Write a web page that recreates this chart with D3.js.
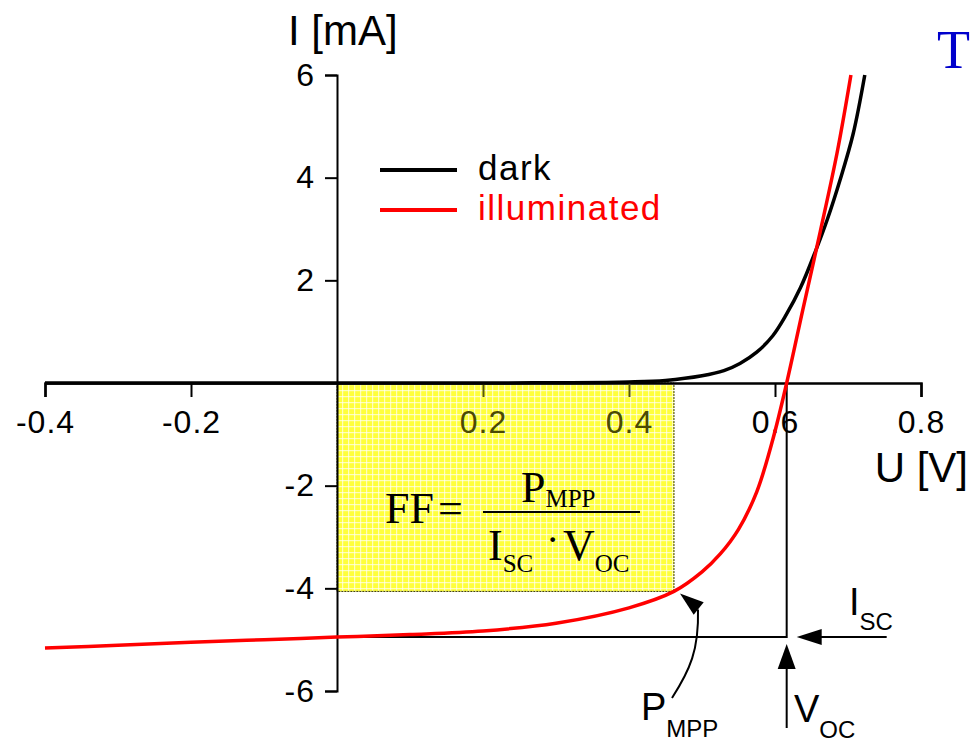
<!DOCTYPE html>
<html>
<head>
<meta charset="utf-8">
<script src="https://cdn.jsdelivr.net/npm/d3@7"></script>
<style>
  html, body { margin: 0; padding: 0; background: #fff; }
  svg { display: block; }
</style>
</head>
<body>
<script>
// Current-voltage characteristic of a solar cell, dark vs illuminated.
const darkU = [-0.4, -0.3, -0.2, -0.1, 0, 0.1, 0.2, 0.3, 0.4, 0.45, 0.5, 0.53, 0.552, 0.575, 0.597, 0.615, 0.635, 0.655, 0.672, 0.689, 0.707, 0.723];
const darkI = [0, 0, 0, 0, 0, 0, 0, 0.005, 0.02, 0.05, 0.14, 0.24, 0.38, 0.6, 0.92, 1.32, 1.86, 2.55, 3.2, 3.95, 4.85, 6.0];

const illumU = [-0.4, -0.3, -0.2, -0.1, 0, 0.1, 0.2, 0.3, 0.4, 0.4616, 0.5, 0.525, 0.55, 0.575, 0.597, 0.616, 0.638, 0.662, 0.685, 0.704];
const illumI = [-5.16, -5.11, -5.05, -5.0, -4.95, -4.9, -4.83, -4.68, -4.38, -4.06, -3.68, -3.33, -2.85, -2.12, -1.1, 0, 1.42, 2.95, 4.48, 6.0];

// Characteristic points
const isc = -4.95;           // short-circuit current [mA]
const voc = 0.616;           // open-circuit voltage [V]
const mpp = [0.4616, -4.06]; // maximum power point [V, mA]

const xMajor = [-0.4, -0.2, 0.2, 0.4, 0.6, 0.8];
const xMinor = [-0.3, -0.1, 0.1, 0.3, 0.5, 0.7];
const yMajor = [6, 4, 2, -2, -4, -6];
const yMinor = [5, 3, 1, -1, -3, -5];

const seriesNames = ["dark", "illuminated"];
const seriesColors = ["#000000", "#ff0000"];

const W = 972, H = 743;
const sans = "'Liberation Sans', Arial, Helvetica, sans-serif";
const serif = "'Liberation Serif', 'Times New Roman', Times, serif";

const svg = d3.select("body").append("svg")
  .attr("width", W).attr("height", H)
  .attr("viewBox", `0 0 ${W} ${H}`);

const x = d3.scaleLinear().domain([-0.4, 0.8]).range([45, 921]);
const y = d3.scaleLinear().domain([-6, 6]).range([691, 75]);

// plain hyphen for negative numbers
const fmtX = d => d3.format(".1f")(d).replace("\u2212", "-");
const fmtY = d => d3.format("d")(d).replace("\u2212", "-");

// Hatched yellow fill for the fill-factor rectangle
const defs = svg.append("defs");
const pat = defs.append("pattern")
  .attr("id", "ffFill").attr("patternUnits", "userSpaceOnUse")
  .attr("width", 6).attr("height", 6);
pat.append("rect").attr("width", 6).attr("height", 6).attr("fill", "#ffff3c");
pat.append("rect").attr("x", 0).attr("y", 0).attr("width", 6).attr("height", 1.2).attr("fill", "#ffffff").attr("opacity", 0.65);
pat.append("rect").attr("x", 0).attr("y", 0).attr("width", 1.2).attr("height", 6).attr("fill", "#ffffff").attr("opacity", 0.65);

// Fill-factor rectangle: origin to maximum power point
svg.append("rect")
  .attr("x", x(0)).attr("y", y(0))
  .attr("width", x(mpp[0]) - x(0))
  .attr("height", y(mpp[1]) - y(0))
  .attr("fill", "url(#ffFill)")
  .attr("stroke", "#333300").attr("stroke-width", 1)
  .attr("stroke-dasharray", "2,1");

const inBox = v => v > 0 && v < mpp[0];

// X axis (through I = 0)
const gx = svg.append("g").attr("transform", `translate(0,${y(0)})`);
gx.call(d3.axisBottom(x).tickValues(xMinor).tickSize(8).tickSizeOuter(0).tickFormat(""));
gx.call(d3.axisBottom(x).tickValues(xMajor).tickSize(14).tickSizeOuter(14).tickPadding(13)
  .tickFormat(fmtX));
gx.selectAll("path.domain").attr("stroke", "#000").attr("stroke-width", 2.5);
gx.selectAll(".tick line").attr("stroke-width", 2)
  .attr("stroke", d => inBox(d) ? "#55550a" : "#000");
gx.selectAll(".tick text")
  .attr("font-family", sans).attr("font-size", 32).attr("letter-spacing", 1)
  .attr("fill", d => inBox(d) ? "#4a4a05" : "#000");

// Y axis (through U = 0)
const gy = svg.append("g").attr("transform", `translate(${x(0)},0)`);
gy.call(d3.axisLeft(y).tickValues(yMinor).tickSize(7).tickSizeOuter(0).tickFormat(""));
gy.call(d3.axisLeft(y).tickValues(yMajor).tickSize(12).tickSizeOuter(12).tickPadding(10)
  .tickFormat(fmtY));
gy.selectAll("path.domain").attr("stroke", "#000").attr("stroke-width", 2);
gy.selectAll(".tick line").attr("stroke", "#000").attr("stroke-width", 2);
gy.selectAll(".tick text").attr("font-family", sans).attr("font-size", 32)
  .attr("letter-spacing", 1).attr("fill", "#000");
svg.selectAll(".domain").attr("fill", "none");

// Axis titles
svg.append("text").attr("x", 288).attr("y", 45)
  .attr("font-family", sans).attr("font-size", 42).text("I [mA]");
svg.append("text").attr("x", 968).attr("y", 482).attr("text-anchor", "end")
  .attr("font-family", sans).attr("font-size", 42).text("U [V]");

// Blue title fragment in the corner
svg.append("text").attr("x", 937).attr("y", 68)
  .attr("font-family", serif).attr("font-size", 54).attr("fill", "#0000cc").text("T");

// Fill-factor formula
const f = svg.append("g").attr("font-family", serif).attr("fill", "#000");
f.append("text").attr("x", 385).attr("y", 523).attr("font-size", 44).text("FF");
f.append("text").attr("x", 438).attr("y", 523).attr("font-size", 44).text("=");
const num = f.append("text").attr("x", 521).attr("y", 502).attr("font-size", 44);
num.append("tspan").text("P");
num.append("tspan").attr("font-size", 25).attr("dy", 5).text("MPP");
f.append("line").attr("x1", 483).attr("x2", 640).attr("y1", 512).attr("y2", 512)
  .attr("stroke", "#000").attr("stroke-width", 2);
const den = f.append("text").attr("x", 488).attr("y", 560).attr("font-size", 44);
den.append("tspan").text("I");
den.append("tspan").attr("font-size", 25).attr("dy", 12).text("SC");
f.append("text").attr("x", 546).attr("y", 553).attr("font-size", 40).text("·");
const den2 = f.append("text").attr("x", 563).attr("y", 560).attr("font-size", 44);
den2.append("tspan").text("V");
den2.append("tspan").attr("font-size", 25).attr("dy", 12).text("OC");

// Short-circuit / open-circuit guide lines
svg.append("path")
  .attr("d", `M${x(0)},${y(isc)}H${x(voc)}V${y(0)}`)
  .attr("fill", "none").attr("stroke", "#000").attr("stroke-width", 2);

// Curves
const line = d3.line().x(d => x(d[0])).y(d => y(d[1])).curve(d3.curveCatmullRom.alpha(0.5));
const darkData = darkU.map((u, i) => [u, darkI[i]]);
const illumData = illumU.map((u, i) => [u, illumI[i]]);
svg.append("path").datum(darkData).attr("d", line)
  .attr("fill", "none").attr("stroke", seriesColors[0]).attr("stroke-width", 3.5);
svg.append("path").datum(illumData).attr("d", line)
  .attr("fill", "none").attr("stroke", seriesColors[1]).attr("stroke-width", 3.5);

// Legend
const leg = svg.append("g");
seriesNames.forEach((name, i) => {
  const yy = 170 + i * 40;
  leg.append("line").attr("x1", 380).attr("x2", 457).attr("y1", yy).attr("y2", yy)
    .attr("stroke", seriesColors[i]).attr("stroke-width", 4);
  leg.append("text").attr("x", 478).attr("y", yy + 10)
    .attr("font-family", sans).attr("font-size", 35).attr("letter-spacing", 1.5)
    .attr("fill", seriesColors[i]).text(name);
});

// Arrow helper: filled triangle with tip at (tx,ty) pointing along (dx,dy)
function arrowHead(tx, ty, dx, dy, len, half) {
  const n = Math.hypot(dx, dy); dx /= n; dy /= n;
  const bx = tx - dx * len, by = ty - dy * len;
  const px = -dy * half, py = dx * half;
  svg.append("path")
    .attr("d", `M${tx},${ty}L${bx + px},${by + py}L${bx - px},${by - py}Z`)
    .attr("fill", "#000");
}

// I_SC marker
const iscY = y(isc);
svg.append("line").attr("x1", x(voc) + 100).attr("x2", x(voc) + 25)
  .attr("y1", iscY).attr("y2", iscY).attr("stroke", "#000").attr("stroke-width", 2);
arrowHead(x(voc) + 10, iscY, -1, 0, 25, 8);
const tIsc = svg.append("text").attr("x", 849).attr("y", 615)
  .attr("font-family", sans).attr("font-size", 38);
tIsc.append("tspan").text("I");
tIsc.append("tspan").attr("font-size", 24).attr("dy", 15).text("SC");

// V_OC marker
svg.append("line").attr("x1", x(voc)).attr("x2", x(voc))
  .attr("y1", 728).attr("y2", iscY + 30).attr("stroke", "#000").attr("stroke-width", 2);
arrowHead(x(voc), iscY + 7, 0, -1, 25, 9);
const tVoc = svg.append("text").attr("x", 794).attr("y", 722)
  .attr("font-family", sans).attr("font-size", 38);
tVoc.append("tspan").text("V");
tVoc.append("tspan").attr("font-size", 24).attr("dy", 16).text("OC");

// P_MPP marker with curved pointer
const mx = x(mpp[0]), my = y(mpp[1]);
svg.append("path")
  .attr("d", `M672,698C690,670 699,650 698,${my + 18}`)
  .attr("fill", "none").attr("stroke", "#000").attr("stroke-width", 2);
arrowHead(mx + 6, my + 2, -0.75, -0.6, 24, 8);
const tMpp = svg.append("text").attr("x", 641).attr("y", 720)
  .attr("font-family", sans).attr("font-size", 38);
tMpp.append("tspan").text("P");
tMpp.append("tspan").attr("font-size", 24).attr("dy", 17).text("MPP");
</script>
</body>
</html>
